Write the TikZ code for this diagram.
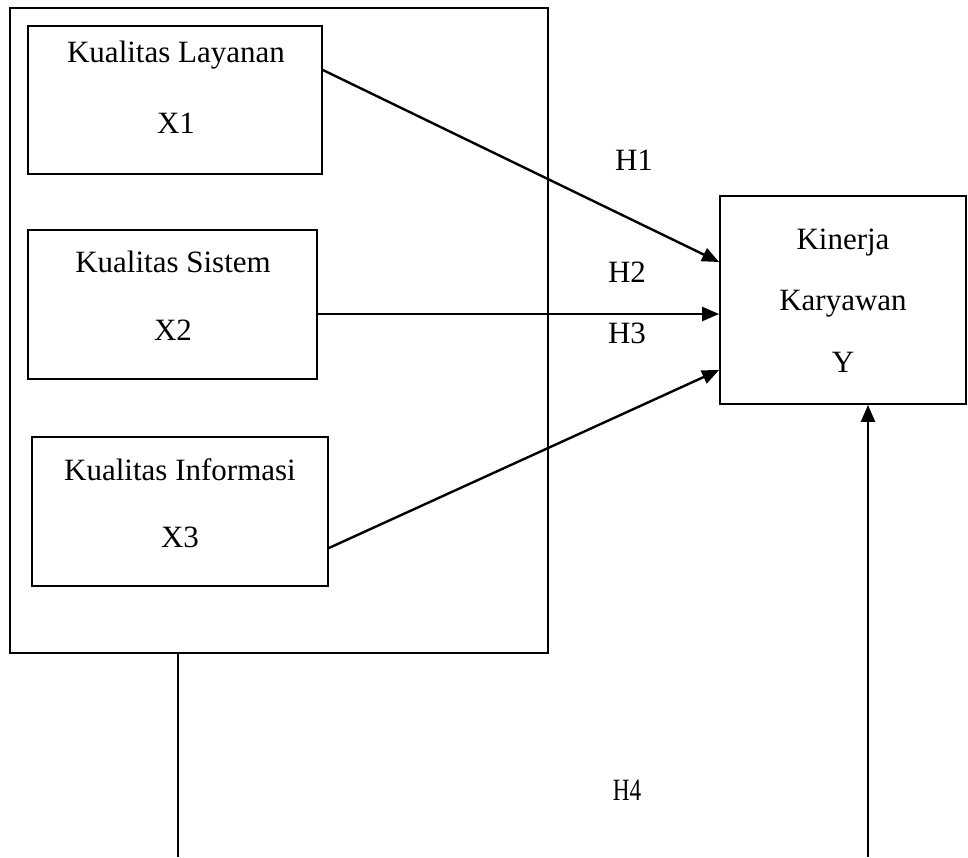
\documentclass[tikz,border=0pt]{standalone}
\usepackage{fontspec}
\setmainfont{Liberation Serif}
\usetikzlibrary{arrows.meta}
\begin{document}
\begin{tikzpicture}[x=1pt,y=-1pt,
  box/.style={draw, line width=1.8pt, inner sep=0pt},
  lbl/.style={inner sep=0pt, font=\fontsize{31}{37}\selectfont},
  arr/.style={line width=2.4pt, -{Triangle[length=17pt,width=14pt]}}]
\useasboundingbox (0,0) rectangle (968,857);
% outer group
\node (group) [box, line width=1.6pt, minimum width=538pt, minimum height=645pt] at (279,330.5) {};
% boxes
\node (x1) [box, minimum width=294pt, minimum height=148pt] at (175,100) {};
\node (x2) [box, minimum width=289pt, minimum height=149pt] at (172.5,304.5) {};
\node (x3) [box, minimum width=296pt, minimum height=149pt] at (180,511.5) {};
\node (y) [box, minimum width=246pt, minimum height=208pt] at (843,300) {};
% texts
\node (t1a) [lbl] at (176,55) {Kualitas Layanan};
\node (t1b) [lbl] at (176,123) {X1};
\node (t2a) [lbl] at (173,262) {Kualitas Sistem};
\node (t2b) [lbl] at (173,330) {X2};
\node (t3a) [lbl] at (180,470) {Kualitas Informasi};
\node (t3b) [lbl] at (180,537) {X3};
\node (tya) [lbl] at (843,243) {Kinerja};
\node (tyb) [lbl] at (843,304) {Karyawan};
\node (tyc) [lbl] at (843,362) {Y};
\node (h1) [lbl] at (634,160) {H1};
\node (h2) [lbl] at (627,272) {H2};
\node (h3) [lbl] at (627,333) {H3};
\node (h4) [lbl] at (627,790) {\scalebox{0.75}[1]{H4}};
% connectors
\draw[arr] ([yshift=30pt]x1.east) -- ([yshift=38pt]y.west);
\draw[arr] ([yshift=-9.5pt]x2.east) -- ([yshift=-9.5pt]x2.east -| y.west);
\draw[arr] ([yshift=-36.5pt]x3.east) -- ([yshift=-70pt]y.west);
\coordinate (b) at (178,857);
\coordinate (c) at (868,857);
\draw[line width=1.6pt] (group.south -| b) -- (b);
\draw[arr] (c) -- (c |- y.south);
\end{tikzpicture}
\end{document}
